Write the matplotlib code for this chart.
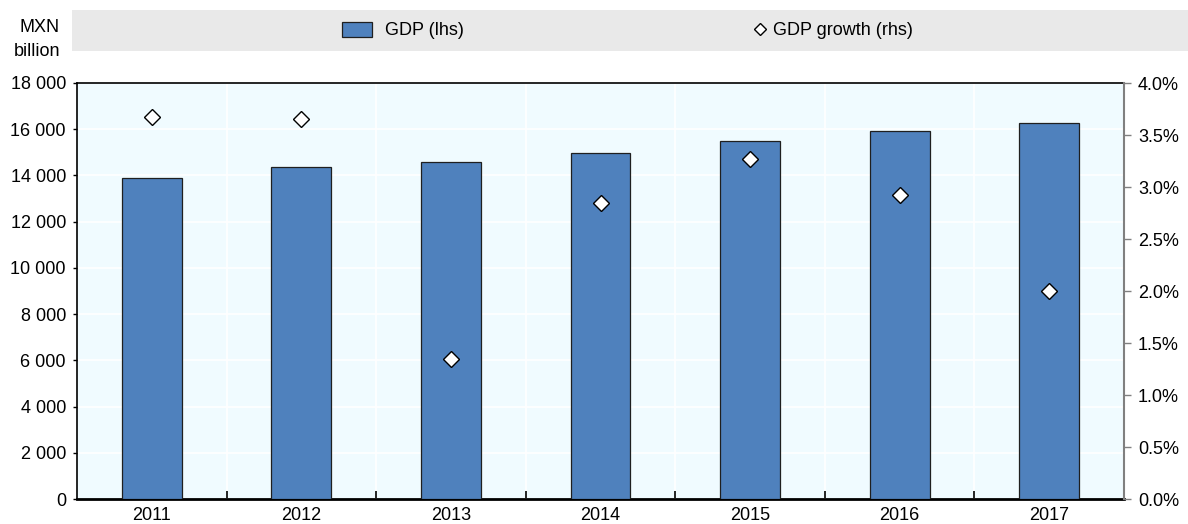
import matplotlib
matplotlib.use("Agg")
import matplotlib.pyplot as plt
from matplotlib.patches import Rectangle, Patch
from matplotlib.lines import Line2D
from matplotlib.ticker import FixedLocator, FuncFormatter

years = ["2011", "2012", "2013", "2014", "2015", "2016", "2017"]
gdp = [13880, 14380, 14570, 14985, 15490, 15925, 16255]
growth = [3.67, 3.65, 1.35, 2.85, 3.27, 2.92, 2.00]
left_ticks = [0, 2000, 4000, 6000, 8000, 10000, 12000, 14000, 16000, 18000]
right_ticks = [0, 0.5, 1.0, 1.5, 2.0, 2.5, 3.0, 3.5, 4.0]

plt.rcParams['font.family'] = ['Liberation Sans Narrow', 'Liberation Sans', 'DejaVu Sans']
plt.rcParams['font.size'] = 13

W, H = 1188, 524
fig = plt.figure(figsize=(W / 100, H / 100), dpi=100)

# legend band
fig.patches.append(Rectangle((72 / W, 1 - 51 / H), (1188 - 72) / W, 41 / H,
                             transform=fig.transFigure, facecolor='#E9E9E9',
                             edgecolor='none', zorder=0))

ax = fig.add_axes([77 / W, 25 / H, (1124 - 77) / W, (499 - 83) / H])
ax.set_facecolor('#F0FBFF')
x = list(range(len(years)))
bars = ax.bar(x, gdp, width=0.4, color='#4F81BD', edgecolor='#1F1F1F',
              linewidth=0.9, zorder=3)
ax.set_xlim(-0.5, len(years) - 0.5)
ax.set_ylim(0, 18000)
ax.set_yticks(left_ticks)
ax.yaxis.set_major_formatter(FuncFormatter(lambda v, p: f"{int(v):,}".replace(",", " ")))
ax.xaxis.set_major_locator(FixedLocator([i + 0.5 for i in range(len(years) - 1)]))
ax.xaxis.set_minor_locator(FixedLocator(x))
ax.xaxis.set_major_formatter(FuncFormatter(lambda v, p: ""))
ax.set_xticks(x, minor=True)
ax.set_xticklabels(years, minor=True)
ax.tick_params(axis='x', which='major', direction='in', length=6, width=1.2, color='black')
ax.tick_params(axis='x', which='minor', length=0, pad=6, labelsize=13)
ax.tick_params(axis='y', direction='out', length=3, width=1, color='black', labelsize=13, pad=5)
ax.grid(True, which='major', color='white', linewidth=1.2, zorder=0)
ax.set_axisbelow(True)
for s in ['left', 'top']:
    ax.spines[s].set_color('black')
    ax.spines[s].set_linewidth(1.2)
ax.spines['bottom'].set_color('black')
ax.spines['bottom'].set_linewidth(2)
ax.spines['right'].set_visible(False)

ax2 = ax.twinx()
ax2.set_ylim(0, 4)
ax2.set_yticks(right_ticks)
ax2.yaxis.set_major_formatter(FuncFormatter(lambda v, p: f"{v:.1f}%"))
ax2.plot(x, growth, linestyle='none', marker='D', markersize=8,
         markerfacecolor='white', markeredgecolor='black', markeredgewidth=1, zorder=5)
ax2.tick_params(axis='y', direction='out', length=5, width=1, color='#808080', labelsize=13, pad=5)
for s in ['left', 'top', 'bottom']:
    ax2.spines[s].set_visible(False)
ax2.spines['right'].set_color('#808080')
ax2.spines['right'].set_linewidth(1.5)

fig.text(60 / W, 1 - 28 / H, "MXN", ha='right', va='center', fontsize=13)
fig.text(60 / W, 1 - 51 / H, "billion", ha='right', va='center', fontsize=13)

leg1 = fig.legend(handles=[Patch(facecolor='#4F81BD', edgecolor='#1F1F1F', linewidth=0.9, label='GDP (lhs)')],
                  loc='center left', bbox_to_anchor=(338 / W, 1 - 30.5 / H), frameon=False,
                  fontsize=13, handlelength=1.7, handleheight=0.9, handletextpad=0.7,
                  borderaxespad=0, borderpad=0.2)
leg2 = fig.legend(handles=[Line2D([], [], linestyle='none', marker='D', markersize=6,
                                  markerfacecolor='white', markeredgecolor='black',
                                  markeredgewidth=1, label='GDP growth (rhs)')],
                  loc='center left', bbox_to_anchor=(750 / W, 1 - 30.5 / H), frameon=False,
                  fontsize=13, handlelength=0.7, handletextpad=0.4,
                  borderaxespad=0, borderpad=0.2)

fig.savefig("out.png", dpi=100)
